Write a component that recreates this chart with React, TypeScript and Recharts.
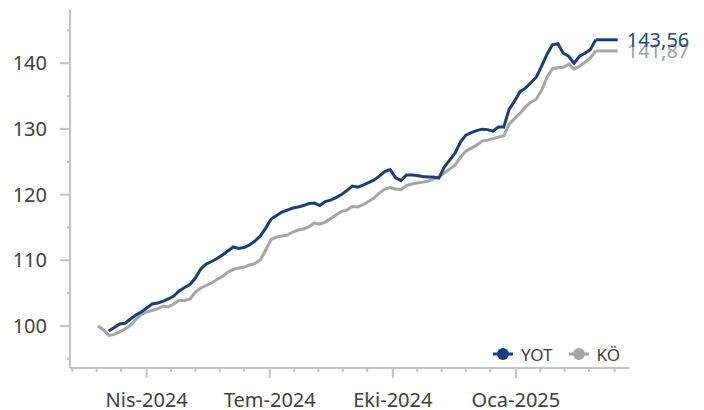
import React from 'react';
import { LineChart, Line, XAxis, YAxis, Legend } from 'recharts';

const days = [55, 59, 63, 67, 71, 75, 79, 83, 87, 91, 95, 99, 103, 107, 111, 115, 119, 123, 127, 131, 135, 139, 143, 147, 151, 155, 159, 163, 167, 171, 175, 179, 183, 187, 191, 195, 199, 203, 207, 211, 215, 219, 223, 227, 231, 235, 239, 243, 247, 251, 255, 259, 263, 267, 271, 275, 279, 283, 287, 291, 295, 299, 303, 307, 311, 315, 319, 323, 327, 331, 335, 339, 343, 347, 351, 355, 359, 363, 367, 371, 375, 379, 383, 387, 391, 395, 399, 403, 407, 411, 415, 419, 423];

const yot = [null, null, 99.24, 99.77, 100.30, 100.41, 101.06, 101.67, 102.13, 102.74,
  103.35, 103.50, 103.73, 104.11, 104.56, 105.32, 105.86, 106.31, 107.30, 108.67,
  109.43, 109.81, 110.27, 110.80, 111.41, 112.02, 111.79, 111.94, 112.32, 112.93,
  113.69, 114.90, 116.27, 116.81, 117.34, 117.64, 117.95, 118.10, 118.33, 118.63,
  118.71, 118.33, 118.94, 119.16, 119.54, 120.00, 120.61, 121.29, 121.14, 121.44,
  121.82, 122.20, 122.81, 123.50, 123.80, 122.59, 122.13, 122.97, 122.97, 122.89,
  122.74, 122.66, 122.66, 122.51, 124.18, 125.25, 126.31, 127.98, 129.05, 129.43,
  129.73, 129.96, 129.89, 129.66, 130.27, 130.27, 133.00, 134.22, 135.67, 136.20,
  137.03, 137.87, 139.54, 141.37, 142.81, 142.97, 141.52, 141.06, 140.00, 141.06,
  141.52, 142.05, 143.56];

const ko = [100.00, 99.39, 98.56, 98.71, 99.09, 99.54, 100.08, 100.99, 101.75, 102.13,
  102.36, 102.59, 103.04, 102.89, 103.35, 103.88, 103.88, 104.11, 105.17, 105.78,
  106.16, 106.54, 107.07, 107.53, 108.21, 108.59, 108.82, 108.97, 109.28, 109.51,
  110.04, 111.56, 113.16, 113.54, 113.69, 113.84, 114.30, 114.60, 114.75, 115.13,
  115.67, 115.51, 115.82, 116.35, 116.88, 117.41, 117.64, 118.17, 118.10, 118.48,
  118.94, 119.47, 120.23, 120.84, 121.07, 120.84, 120.76, 121.37, 121.60, 121.75,
  121.90, 122.05, 122.36, 122.66, 123.27, 123.88, 124.49, 125.70, 126.62, 127.07,
  127.53, 128.14, 128.29, 128.52, 128.74, 128.97, 130.72, 131.56, 132.39, 133.31,
  134.07, 134.52, 135.89, 137.87, 139.16, 139.31, 139.39, 139.85, 139.09, 139.54,
  140.15, 140.76, 141.87];

const yTicks = [95, 100, 105, 110, 115, 120, 125, 130, 135, 140, 145];
const xTicks = [36, 54, 72, 91, 109, 127, 145, 163, 182, 200, 218, 236, 254, 273, 291, 309, 327, 345, 364, 382, 400, 418, 437];
const xLabels: Record<number, string> = { 91: 'Nis-2024', 182: 'Tem-2024', 273: 'Eki-2024', 364: 'Oca-2025' };
const seriesNames = { yot: 'YOT', ko: 'KÖ' };
const endLabels = { yot: '143,56', ko: '141,87' };

const BLUE = '#1A3E7C';
const GREY = '#A6A6A6';
const AXIS = '#C3C3C3';
const TEXT = '#404040';
const FONT = '"Noto Sans", "DejaVu Sans", sans-serif';

const data = days.map((d, i) => ({ d, yot: yot[i], ko: ko[i] }));

const YTick = (props: any) => {
  const { x, y, payload } = props;
  const v = payload.value;
  const major = v % 10 === 0;
  return (
    <g>
      <line x1={x - (major ? 10 : 3)} x2={x} y1={y} y2={y} stroke={AXIS} strokeWidth={2} />
      {major && (
        <text x={x - 23} y={y + 7} textAnchor="end" fontSize={20} fill={TEXT} fontFamily={FONT}>
          {v}
        </text>
      )}
    </g>
  );
};

const XTick = (props: any) => {
  const { x, y, payload } = props;
  const label = xLabels[payload.value];
  return (
    <g>
      <line x1={x} x2={x} y1={y} y2={y + (label ? 10 : 4)} stroke={AXIS} strokeWidth={2} />
      {label && (
        <text x={x} y={y + 39} textAnchor="middle" fontSize={20} fill={TEXT} fontFamily={FONT}>
          {label}
        </text>
      )}
    </g>
  );
};

const makeEndDot = (color: string, label: string, textColor: string) => (props: any) => {
  const { cx, cy, index } = props;
  if (index !== days.length - 1 || cx == null || cy == null) return <g key={`d${index}`} />;
  return (
    <g key={`d${index}`}>
      <line x1={cx} y1={cy} x2={cx + 22} y2={cy} stroke={color} strokeWidth={3} />
      <text x={cx + 31} y={cy + 7} fontSize={20} fill={textColor} fontFamily={FONT}>
        {label}
      </text>
    </g>
  );
};

const Marker = ({ color }: { color: string }) => (
  <svg width={20} height={14} style={{ display: 'block' }}>
    <line x1={0} y1={7} x2={20} y2={7} stroke={color} strokeWidth={3} />
    <circle cx={10} cy={7} r={6} fill={color} />
  </svg>
);

const renderLegend = () => (
  <div style={{ display: 'flex', alignItems: 'center', height: 22, fontFamily: FONT, fontSize: 17, color: TEXT }}>
    <Marker color={BLUE} />
    <span style={{ marginLeft: 8, marginRight: 16 }}>{seriesNames.yot}</span>
    <Marker color={GREY} />
    <span style={{ marginLeft: 8 }}>{seriesNames.ko}</span>
  </div>
);

export default function App() {
  return (
    <div style={{ position: 'absolute', left: 0, top: 0, width: 704, height: 410, background: '#fff' }}>
      <LineChart width={704} height={410} data={data} margin={{ top: 10, right: 75, bottom: 0, left: 0 }}>
        <XAxis
          type="number"
          dataKey="d"
          domain={[34.3, 447.6]}
          ticks={xTicks}
          interval={0}
          tick={<XTick />}
          tickLine={false}
          tickSize={0}
          tickMargin={0}
          height={42}
          axisLine={{ stroke: AXIS, strokeWidth: 2 }}
        />
        <YAxis
          type="number"
          domain={[93.6, 148.1]}
          ticks={yTicks}
          interval={0}
          tick={<YTick />}
          tickLine={false}
          tickSize={0}
          tickMargin={0}
          width={70}
          axisLine={{ stroke: AXIS, strokeWidth: 2 }}
        />
        <Legend
          layout="horizontal"
          verticalAlign="middle"
          align="center"
          content={renderLegend}
          wrapperStyle={{ position: 'absolute', left: 493, top: 343, width: 150, height: 22 }}
        />
        <Line
          type="linear"
          dataKey="ko"
          name={seriesNames.ko}
          stroke={GREY}
          strokeWidth={3}
          dot={makeEndDot(GREY, endLabels.ko, '#9AA0A8')}
          activeDot={false}
          isAnimationActive={false}
        />
        <Line
          type="linear"
          dataKey="yot"
          name={seriesNames.yot}
          stroke={BLUE}
          strokeWidth={3}
          dot={makeEndDot(BLUE, endLabels.yot, '#23498A')}
          activeDot={false}
          isAnimationActive={false}
        />
      </LineChart>
    </div>
  );
}
